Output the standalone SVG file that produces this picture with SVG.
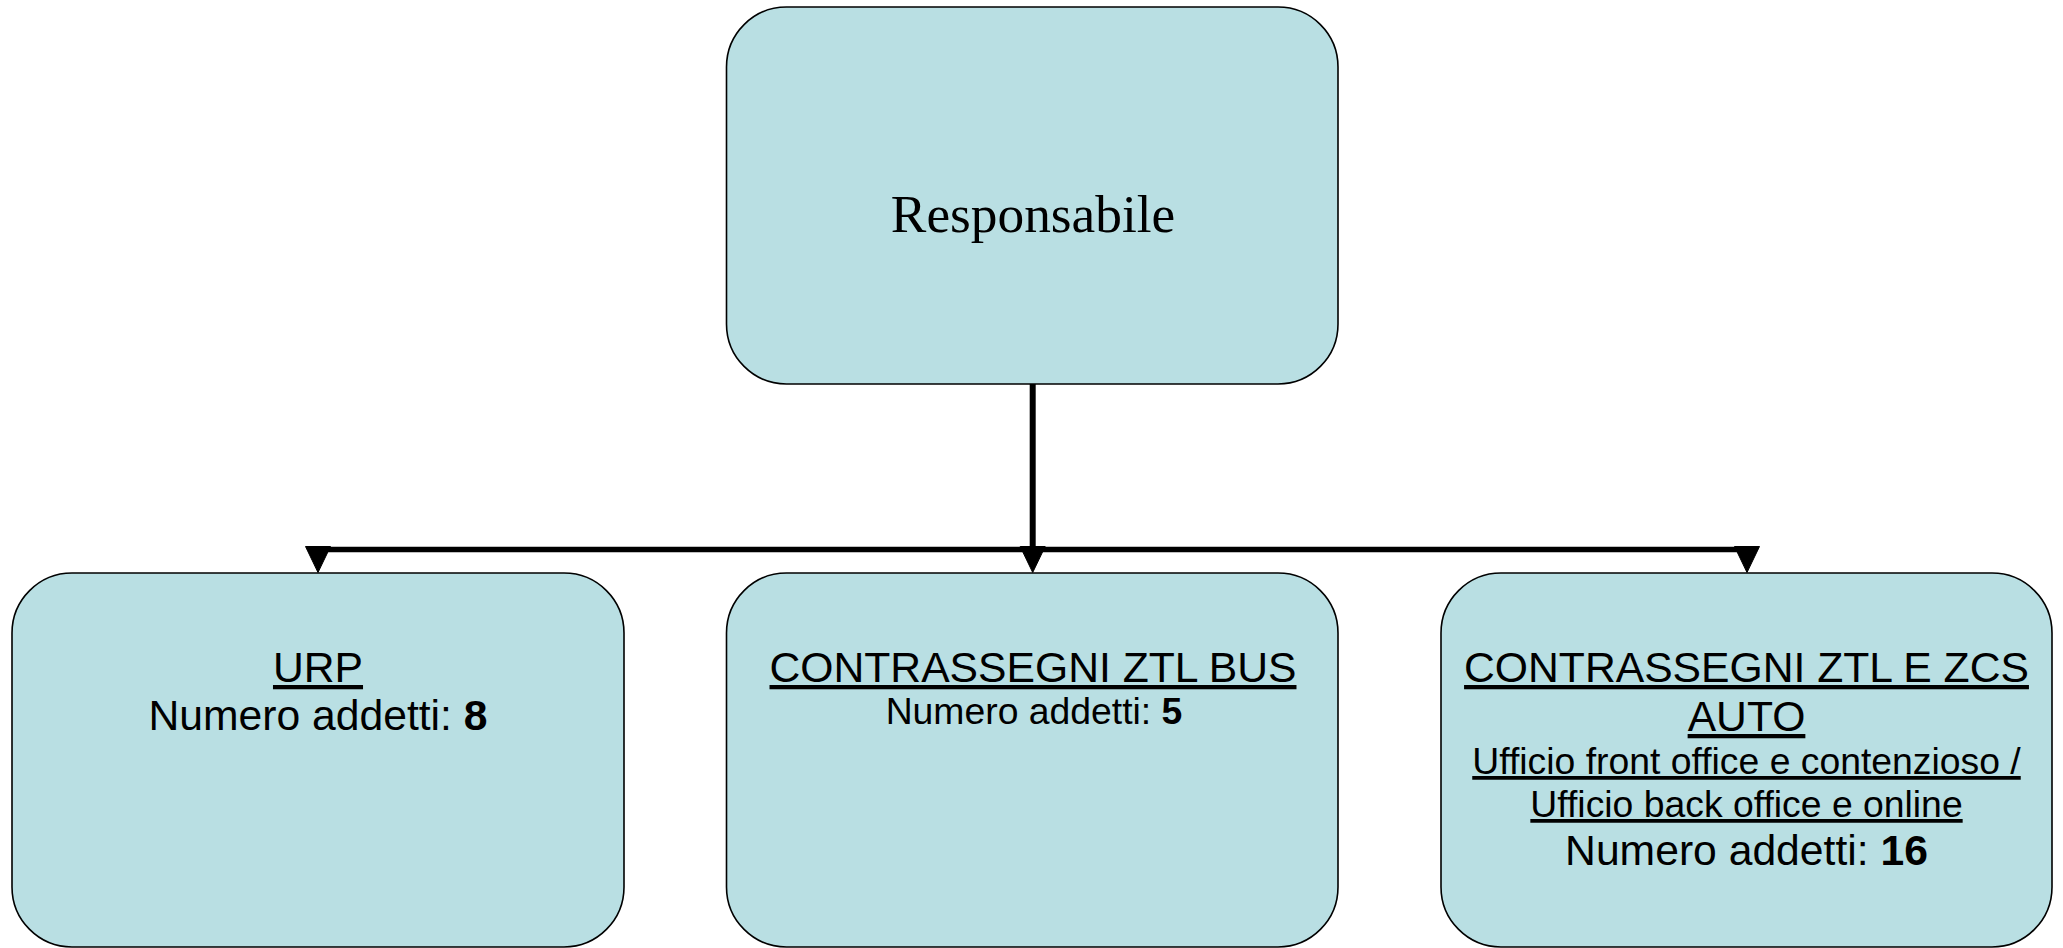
<svg xmlns="http://www.w3.org/2000/svg" width="2063" height="948" viewBox="0 0 2063 948">
<style>
.box{fill:#B9DFE3;stroke:#000;stroke-width:1.6}
.t{font-family:"Liberation Sans",Arial,sans-serif;fill:#000;text-anchor:middle}
.big{font-size:42.67px}
.small{font-size:37.33px}
.u{text-decoration:underline}
.b{font-weight:bold}
.conn{stroke:#000;fill:none}
.head{fill:#000;stroke:#000;stroke-width:1;stroke-linejoin:miter}
</style>
<rect width="2063" height="948" fill="#fff"/>
<g id="connectors">
<line class="conn" x1="1032.7" y1="384" x2="1032.7" y2="552" stroke-width="6"/>
<line class="conn" x1="318" y1="549.5" x2="1747" y2="549.5" stroke-width="5.5"/>
<polygon class="head" points="305.5,546.5 330.5,546.5 318,572.5"/>
<polygon class="head" points="1020.2,546.5 1045.2,546.5 1032.7,572.5"/>
<polygon class="head" points="1734.5,546.5 1759.5,546.5 1747,572.5"/>
</g>
<g id="node-responsabile">
<rect class="box" x="726.5" y="7" width="611.5" height="377" rx="60" ry="60"/>
<text x="1033" y="231.7" style="font-family:'Liberation Serif','Times New Roman',serif;font-size:53.33px;text-anchor:middle;fill:#000">Responsabile</text>
</g>
<g id="node-urp">
<rect class="box" x="12" y="573" width="612" height="374" rx="60" ry="60"/>
<text class="t big u" x="318" y="682">URP</text>
<text class="t big" x="318" y="730">Numero addetti: <tspan class="b">8</tspan></text>
</g>
<g id="node-ztl-bus">
<rect class="box" x="726.5" y="573" width="611.5" height="374" rx="60" ry="60"/>
<text class="t big u" x="1033" y="682">CONTRASSEGNI ZTL BUS</text>
<text class="t small" x="1034" y="724">Numero addetti: <tspan class="b">5</tspan></text>
</g>
<g id="node-ztl-zcs-auto">
<rect class="box" x="1441" y="573" width="611" height="374" rx="60" ry="60"/>
<text class="t big u" x="1746.5" y="682">CONTRASSEGNI ZTL E ZCS</text>
<text class="t big u" x="1746.5" y="731">AUTO</text>
<text class="t small u" x="1746.5" y="774">Ufficio front office e contenzioso /</text>
<text class="t small u" x="1746.5" y="817">Ufficio back office e online</text>
<text class="t big" x="1746.5" y="865">Numero addetti: <tspan class="b">16</tspan></text>
</g>
</svg>
